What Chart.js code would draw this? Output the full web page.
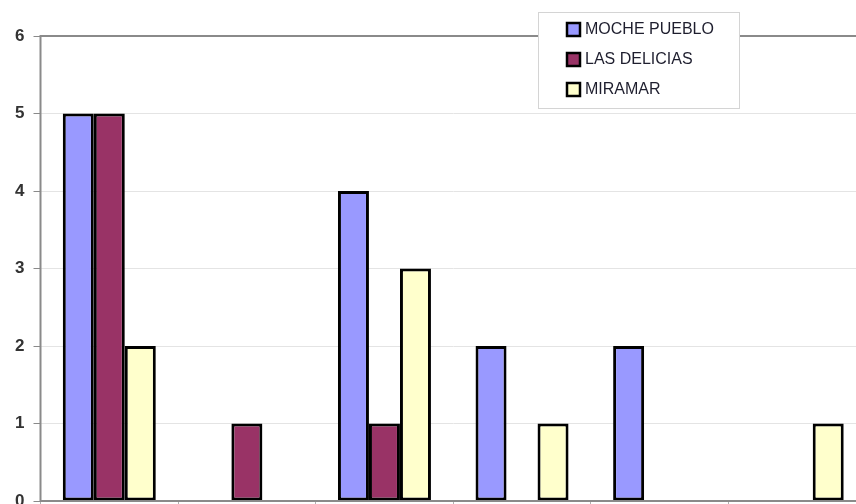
<!DOCTYPE html>
<html>
<head>
<meta charset="utf-8">
<script src="https://cdn.jsdelivr.net/npm/chart.js@4/dist/chart.umd.min.js"></script>
<style>
    html, body { margin: 0; padding: 0; background: #fff; overflow: hidden; }
    #wrap { position: absolute; left: 0; top: 0; width: 880px; height: 540px; }
</style>
</head>
<body>
<div id="wrap"><canvas id="barChart" width="880" height="540"></canvas></div>
<script>
// categories are not visible in the picture (cut off below the axis)
var categories = ['1', '2', '3', '4', '5', '6'];
var seriesNames = ['MOCHE PUEBLO', 'LAS DELICIAS', 'MIRAMAR'];
var mochePueblo = [5, 0, 4, 2, 2, 0];
var lasDelicias = [5, 1, 1, 0, 0, 0];
var miramar = [2, 0, 3, 1, 0, 1];
var yTicks = [0, 1, 2, 3, 4, 5, 6];

var fillColors = ['#9999ff', '#993366', '#ffffcc'];

// gray frame around the plot area
var frame = {
    id: 'frame',
    afterDatasetsDraw: function(chart) {
        var a = chart.chartArea;
        var ctx = chart.ctx;
        ctx.save();
        ctx.strokeStyle = '#8a8a8a';
        ctx.lineWidth = 2;
        ctx.beginPath();
        ctx.moveTo(a.left, a.bottom);
        ctx.lineTo(a.left, a.top);
        ctx.lineTo(a.right, a.top);
        ctx.lineTo(a.right, a.bottom);
        ctx.lineTo(a.left, a.bottom);
        ctx.stroke();
        ctx.restore();
    }
};

// legend box drawn over the top border
var boxLegend = {
    id: 'boxLegend',
    afterDraw: function(chart) {
        var ctx = chart.ctx;
        var x = 538, y = 12, w = 201, h = 96;
        ctx.save();
        ctx.fillStyle = '#fff';
        ctx.fillRect(x, y, w, h);
        ctx.strokeStyle = '#d4d4d4';
        ctx.lineWidth = 1;
        ctx.strokeRect(x + 0.5, y + 0.5, w, h);
        ctx.font = '16px "Liberation Sans", Arial, sans-serif';
        ctx.textBaseline = 'middle';
        chart.data.datasets.forEach(function(ds, i) {
            var cy = 29 + i * 30;
            ctx.fillStyle = ds.backgroundColor;
            ctx.fillRect(567, cy - 6, 13, 13);
            ctx.strokeStyle = '#000';
            ctx.lineWidth = 2.5;
            ctx.strokeRect(567, cy - 6, 13, 13);
            ctx.fillStyle = '#1e1e2e';
            ctx.fillText(ds.label, 585, cy + 1);
        });
        ctx.restore();
    }
};

var allSeries = [mochePueblo, lasDelicias, miramar];
var datasets = [];
for (var i = 0; i < allSeries.length; i++) {
    datasets.push({
        label: seriesNames[i],
        data: allSeries[i],
        backgroundColor: fillColors[i],
        borderColor: '#000',
        borderWidth: 3,
        borderSkipped: false,
        barPercentage: 1.0,
        categoryPercentage: 0.676
    });
}

var ctx = document.getElementById('barChart');
var chart = new Chart(ctx, {
    type: 'bar',
    data: {
        labels: categories,
        datasets: datasets
    },
    options: {
        responsive: false,
        animation: false,
        layout: { padding: { top: 36, right: 14, left: 0, bottom: 0 } },
        plugins: {
            legend: { display: false },
            tooltip: { enabled: false }
        },
        scales: {
            x: {
                grid: {
                    display: true,
                    offset: true,
                    drawOnChartArea: false,
                    tickLength: 5,
                    color: '#b0b0b0'
                },
                border: { display: false },
                ticks: { display: false },
                afterFit: function(scale) { scale.height = 39; }
            },
            y: {
                min: 0,
                max: 6,
                afterBuildTicks: function(scale) {
                    scale.ticks = yTicks.map(function(v) { return { value: v }; });
                },
                grid: {
                    color: '#e4e4e4',
                    tickColor: '#8a8a8a',
                    tickLength: 7
                },
                border: { display: false },
                ticks: {
                    padding: 9,
                    color: '#333',
                    font: { family: '"Liberation Sans", Arial, sans-serif', size: 17, weight: 'bold' }
                },
                afterFit: function(scale) { scale.width = 40.5; }
            }
        }
    },
    plugins: [frame, boxLegend]
});
</script>
</body>
</html>
